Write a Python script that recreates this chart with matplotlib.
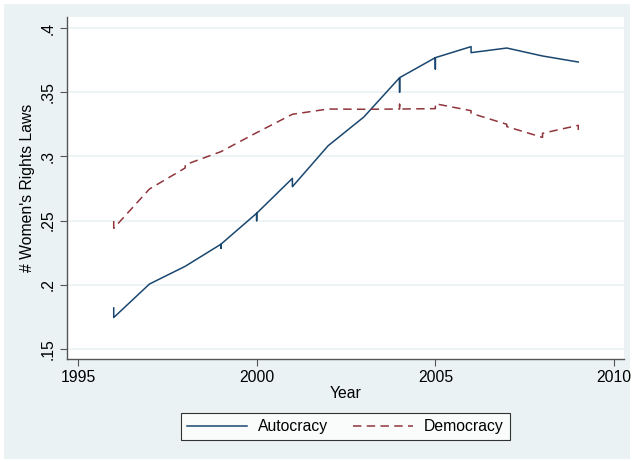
import numpy as np
import matplotlib.pyplot as plt

plt.rcParams['font.family'] = ['Liberation Sans', 'DejaVu Sans']
plt.rcParams['font.size'] = 11.3

# several observations per year, in the order they get connected
years = [1996, 1997, 1998, 1999, 2000, 2001, 2002, 2003, 2004, 2005, 2006, 2007, 2008, 2009]
autocracy = [[0.182, 0.1745], [0.2006], [0.2144], [0.2316, 0.2284, 0.2316],
             [0.2557, 0.2499, 0.2557], [0.2829, 0.2764], [0.3083], [0.3307],
             [0.3613, 0.350, 0.3613], [0.3769, 0.368, 0.3769], [0.3855, 0.3808],
             [0.3844], [0.3782], [0.3735]]
democracy = [[0.2497, 0.2440], [0.2746], [0.291, 0.2935], [0.3037], [0.3185],
             [0.3328], [0.3369], [0.3367], [0.3369, 0.3406, 0.3369],
             [0.3372, 0.341], [0.3356, 0.3336], [0.325, 0.3232],
             [0.3148, 0.318], [0.3242, 0.3206]]

def flatten(vals):
    xs, ys = [], []
    for yr, v in zip(years, vals):
        for val in v:
            xs.append(yr)
            ys.append(val)
    return xs, ys

bg = '#eaf2f3'
navy = '#1a476f'
maroon = '#90353b'

fig = plt.figure(figsize=(6.33, 4.62), dpi=100)
fig.patch.set_facecolor(bg)
fig.patch.set_edgecolor('white')
fig.patch.set_linewidth(5)
ax = fig.add_axes([67/633, 1-359/462, (624-67)/633, (359-17)/462])
ax.set_facecolor('white')

ax_x, ax_y = flatten(autocracy)
de_x, de_y = flatten(democracy)
ax.plot(ax_x, ax_y, color=navy, lw=1.1, label='Autocracy')
ax.plot(de_x, de_y, color=maroon, lw=1.1, dashes=(5.5, 3.5), label='Democracy')

ax.set_xlim(1995 - 11/35.8, 2010 + 10/35.8)
ax.set_ylim(0.15 - 10/1284, 0.4 + 11/1284)
ax.set_xticks([1995, 2000, 2005, 2010])
yt = [0.15, 0.2, 0.25, 0.3, 0.35, 0.4]
ax.set_yticks(yt)
ax.set_yticklabels(['.15', '.2', '.25', '.3', '.35', '.4'], rotation=90, va='center')
ax.grid(axis='y', color=bg, lw=1.2)
ax.set_axisbelow(True)
for s in ['top', 'right']:
    ax.spines[s].set_visible(False)
for s in ['left', 'bottom']:
    ax.spines[s].set_color('#555555')
    ax.spines[s].set_linewidth(1.0)
ax.tick_params(length=5, color='#555555', labelcolor='black', pad=3)
ax.set_xlabel('Year', labelpad=1)
ax.set_ylabel("# Women's Rights Laws", labelpad=4)

leg = fig.legend(loc='center', bbox_to_anchor=(345.5/633, 1-426.5/462), ncol=2,
                 frameon=True, fancybox=False, handlelength=3.8, columnspacing=1.6,
                 borderpad=0.4, handletextpad=0.7)
leg.get_frame().set_edgecolor('black')
leg.get_frame().set_linewidth(0.8)

fig.savefig('out.png', dpi=100, facecolor=fig.get_facecolor(), edgecolor=fig.patch.get_edgecolor())
